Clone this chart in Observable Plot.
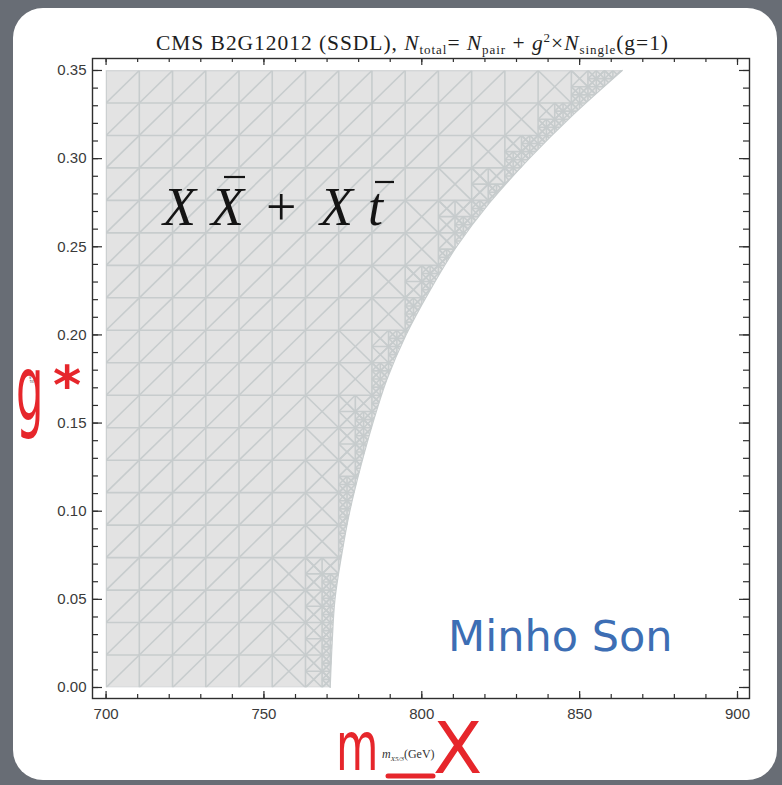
<!DOCTYPE html>
<html>
<head>
<meta charset="utf-8">
<script src="https://cdn.jsdelivr.net/npm/d3@7"></script>
<script src="https://cdn.jsdelivr.net/npm/@observablehq/plot@0.6"></script>
<style>
  body { margin: 0; background: #686d75; }
  #wrap { position: relative; width: 782px; height: 785px; overflow: hidden; }
  #card { position: absolute; left: 13px; top: 8px; width: 764px; height: 772px; background: #fff; border-radius: 30px; }
  #chart { position: absolute; left: 0; top: 0; }
  #notes { position: absolute; left: 0; top: 0; pointer-events: none; }
</style>
</head>
<body>
<div id="wrap">
  <div id="card"></div>
  <div id="chart"></div>
  <svg id="notes" width="782" height="785">
    <!-- plot title -->
    <text x="412" y="50" text-anchor="middle" textLength="512" lengthAdjust="spacing" font-family="Liberation Serif, Times New Roman, serif" font-size="21.5" fill="#1e1e1e">CMS B2G12012 (SSDL), <tspan font-style="italic">N</tspan><tspan font-size="13" dy="4">total</tspan><tspan dy="-4">= </tspan><tspan font-style="italic">N</tspan><tspan font-size="13" dy="4">pair</tspan><tspan dy="-4"> + </tspan><tspan font-style="italic">g</tspan><tspan font-size="13" dy="-8">2</tspan><tspan dy="8">×</tspan><tspan font-style="italic">N</tspan><tspan font-size="13" dy="4">single</tspan><tspan dy="-4">(g=1)</tspan></text>

    <!-- process label -->
    <g font-family="Liberation Serif, Times New Roman, serif" font-size="54" fill="#141414">
      <text x="163" y="225" font-style="italic">X</text>
      <text x="211" y="225" font-style="italic">X</text>
      <line x1="224" x2="245" y1="177" y2="177" stroke="#141414" stroke-width="2.2"/>
      <text x="266" y="225">+</text>
      <text x="320" y="225" font-style="italic">X</text>
      <text x="368" y="225" font-style="italic">t</text>
      <line x1="375" x2="394" y1="182" y2="182" stroke="#141414" stroke-width="2.2"/>
    </g>

    <!-- original axis titles -->
    <text transform="translate(33,383) rotate(-90)" font-family="Liberation Serif, serif" font-size="7" fill="#666">g*</text>
    <text x="382" y="758" font-family="Liberation Serif, serif" font-size="12" fill="#333"><tspan font-style="italic">m</tspan><tspan font-size="7" dy="3" font-style="italic">X5/3</tspan><tspan dy="-3">(GeV)</tspan></text>

    <!-- handwritten axis names -->
    <g fill="#e6262b" font-family="DejaVu Sans, sans-serif">
      <text transform="translate(16,420) scale(0.48,1)" font-size="90">g</text>
      <text x="67" y="404" text-anchor="middle" font-size="54" font-weight="bold">*</text>
      <text transform="translate(336,770) scale(0.64,1)" font-size="68">m</text>
      <text x="433" y="773" font-size="72">X</text>
    </g>
    <line x1="388" x2="433" y1="776" y2="776" stroke="#e6262b" stroke-width="5" stroke-linecap="round"/>
  </svg>
</div>

<script>
// Excluded-region boundary: coupling g* versus the mass reach m_X (GeV)
const gBoundary = [0, 0.025, 0.05, 0.075, 0.10, 0.125, 0.15, 0.175, 0.20, 0.225, 0.25, 0.275, 0.30, 0.325, 0.35];
const mBoundary = [771, 771.6, 772.5, 774.6, 777.2, 780.6, 784.5, 789, 795, 802.5, 811, 821.5, 834, 848, 863.5];

// Sampled plot range and mesh resolution of the region plot
const massRange = [700, 900];
const couplingRange = [0, 0.35];
const meshDivisions = 19;
const meshRefinement = 2;

// Axis ticks
const xTicks = [700, 750, 800, 850, 900];
const yTicks = [0, 0.05, 0.10, 0.15, 0.20, 0.25, 0.30, 0.35];
const xMinor = d3.range(700, 901, 10);
const yMinor = d3.range(0, 36).map(i => i / 100);

const boundary = gBoundary.map((g, i) => ({g, m: mBoundary[i]}));

// Mesh of the shaded region (grid, triangulation and refinement near the edge)
const edge = d3.scaleLinear().domain(gBoundary).range(mBoundary);
const inside = (m, g) => m <= edge(g) + 1e-9;
const cellInside = (x0, x1, y0) => x1 <= edge(y0);
const segs = [];
const seg = (x1, y1, x2, y2) => segs.push({x1, y1, x2, y2});
const dxm = (massRange[1] - massRange[0]) / meshDivisions;
const dyg = (couplingRange[1] - couplingRange[0]) / meshDivisions;

for (let i = 0; i <= meshDivisions; i++) {
  const x = massRange[0] + i * dxm;
  seg(x, couplingRange[0], x, couplingRange[1]);
  const y = couplingRange[0] + i * dyg;
  seg(massRange[0], y, massRange[1], y);
}

function refine(x0, x1, y0, y1, depth) {
  const c = [inside(x0, y0), inside(x1, y0), inside(x0, y1), inside(x1, y1)].filter(Boolean).length;
  if (c === 0) return;
  if (c === 4) {
    seg(x0, y0, x1, y1);
    if (depth > 0 || !cellInside(x1, x1 + dxm, y0)) seg(x0, y1, x1, y0);
    return;
  }
  seg(x0, y0, x1, y1);
  seg(x0, y1, x1, y0);
  if (depth < meshRefinement) {
    const xm = (x0 + x1) / 2, ym = (y0 + y1) / 2;
    seg(xm, y0, xm, y1);
    seg(x0, ym, x1, ym);
    refine(x0, xm, y0, ym, depth + 1);
    refine(xm, x1, y0, ym, depth + 1);
    refine(x0, xm, ym, y1, depth + 1);
    refine(xm, x1, ym, y1, depth + 1);
  }
}
for (let i = 0; i < meshDivisions; i++) {
  for (let j = 0; j < meshDivisions; j++) {
    const x0 = massRange[0] + i * dxm, y0 = couplingRange[0] + j * dyg;
    refine(x0, x0 + dxm, y0, y0 + dyg, 0);
  }
}

const W = 782, H = 785, mL = 92, mR = 33, mT = 58, mB = 87;
const innerW = W - mL - mR, innerH = H - mT - mB;
const axisColor = "#2e2e2e";
const meshColor = "#c7cccd";

const plot = Plot.plot({
  width: W,
  height: H,
  marginLeft: mL,
  marginRight: mR,
  marginTop: mT,
  marginBottom: mB,
  style: {background: "transparent", fontFamily: "Liberation Sans, Arial, sans-serif"},
  x: {domain: [695.7, 903.8], axis: null},
  y: {domain: [-0.00624, 0.3568], axis: null},
  marks: [
    Plot.areaX(boundary, {y: "g", x1: massRange[0], x2: "m", fill: "#e3e3e3", curve: "monotone-y"}),
    Plot.link(segs, {x1: "x1", y1: "y1", x2: "x2", y2: "y2", stroke: meshColor, strokeWidth: 1.6}),
    Plot.line(boundary, {x: "m", y: "g", curve: "monotone-y", stroke: meshColor, strokeWidth: 1.2}),
    // inward frame ticks
    Plot.ruleX(xMinor, {x: d => d, insetTop: innerH - 4, stroke: axisColor, strokeWidth: 1.2}),
    Plot.ruleX(xTicks, {x: d => d, insetTop: innerH - 7, stroke: axisColor, strokeWidth: 1.2}),
    Plot.ruleX(xMinor, {x: d => d, insetBottom: innerH - 4, stroke: axisColor, strokeWidth: 1.2}),
    Plot.ruleX(xTicks, {x: d => d, insetBottom: innerH - 7, stroke: axisColor, strokeWidth: 1.2}),
    Plot.ruleY(yMinor, {y: d => d, insetRight: innerW - 6, stroke: axisColor, strokeWidth: 1.2}),
    Plot.ruleY(yTicks, {y: d => d, insetRight: innerW - 10, stroke: axisColor, strokeWidth: 1.2}),
    Plot.ruleY(yMinor, {y: d => d, insetLeft: innerW - 6, stroke: axisColor, strokeWidth: 1.2}),
    Plot.ruleY(yTicks, {y: d => d, insetLeft: innerW - 10, stroke: axisColor, strokeWidth: 1.2}),
    Plot.frame({stroke: axisColor, strokeWidth: 1.4}),
    // tick labels
    Plot.text(xTicks, {x: d => d, frameAnchor: "bottom", dy: 20, text: d => String(d), fontSize: 15, fill: "#3a3a3a"}),
    Plot.text(yTicks, {y: d => d, frameAnchor: "left", dx: -6, textAnchor: "end", text: d => d.toFixed(2), fontSize: 15, fill: "#3a3a3a"}),
    // author credit
    Plot.text(["Minho Son"], {frameAnchor: "bottom-right", dx: -77, dy: -48, textAnchor: "end", text: d => d, fontSize: 43, fill: "#3d6eb4", fontFamily: "DejaVu Sans, sans-serif"})
  ]
});

// Restrict the mesh to the shaded region
const svg = d3.select(plot);
const regionPath = svg.select('g[aria-label="area"] path');
const meshGroup = svg.select('g[aria-label="link"]');
if (!regionPath.empty() && !meshGroup.empty()) {
  svg.insert("defs", ":first-child")
    .append("clipPath").attr("id", "region-clip")
    .append("path").attr("d", regionPath.attr("d"));
  meshGroup.attr("clip-path", "url(#region-clip)");
}

document.getElementById("chart").appendChild(plot);
</script>
</body>
</html>
